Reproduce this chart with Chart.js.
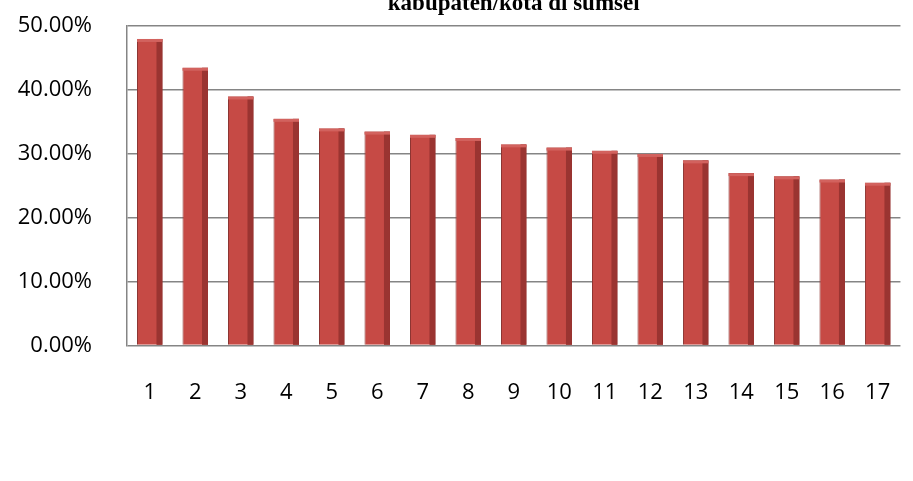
<!DOCTYPE html>
<html>
<head>
<meta charset="utf-8">
<script src="https://cdn.jsdelivr.net/npm/chart.js@4"></script>
<style>
  html, body { margin:0; padding:0; background:#fff; }
  #wrap { width:913px; height:481px; position:relative; overflow:hidden; }
  #chart { position:absolute; left:0; top:-22px; }
</style>
</head>
<body>
<div id="wrap"><canvas id="chart" width="925" height="503"></canvas></div>
<script>
// ================= DATA =================
const categories = ["1","2","3","4","5","6","7","8","9","10","11","12","13","14","15","16","17"];
const values = [48, 43.5, 39, 35.5, 34, 33.5, 33, 32.5, 31.5, 31, 30.5, 30, 29, 27, 26.5, 26, 25.5];
const yTicks = [0, 10, 20, 30, 40, 50];
const titleText = "kabupaten/kota di sumsel";

// ================= 3D SIDE SHADE =================
const barShade = {
    id: 'barShade',
    afterDatasetsDraw(chart){
        const ctx = chart.ctx;
        chart.getDatasetMeta(0).data.forEach(bar => {
            const right = bar.x + bar.width/2;
            ctx.save();
            ctx.fillStyle = '#9a3431';
            ctx.fillRect(right - 6, bar.y, 6, bar.base - bar.y);
            ctx.fillStyle = '#d2625e';
            ctx.fillRect(bar.x - bar.width/2, bar.y, bar.width, 3);
            ctx.restore();
        });
    }
};

// ================= CHART =================
const ctx = document.getElementById("chart").getContext("2d");
new Chart(ctx, {
    type: 'bar',
    data: {
        labels: categories,
        datasets: [{
            data: values,
            backgroundColor: '#c64a45',
            borderColor: '#8c3532',
            borderWidth: 1,
            barPercentage: 0.56,
            categoryPercentage: 1
        }]
    },
    options: {
        responsive: false,
        animation: false,
        layout: { padding: { left: 0, right: 0, top: 0, bottom: 41 } },
        plugins: {
            legend: { display: false },
            tooltip: { enabled: false },
            title: {
                display: true,
                fullSize: false,
                text: titleText,
                color: '#000',
                font: { family: '"Liberation Serif", "Times New Roman", serif', size: 23, weight: 'bold', lineHeight: 1.2 },
                padding: { top: 3, bottom: 8 }
            }
        },
        scales: {
            x: {
                grid: { display: false, drawTicks: false },
                border: { display: false },
                ticks: { color: '#000', padding: 34, font: { family: '"Open Sans", sans-serif', size: 22 }, maxRotation: 0 }
            },
            y: {
                min: 0,
                max: 50,
                afterBuildTicks: axis => { axis.ticks = yTicks.map(v => ({ value: v })); },
                afterFit: axis => { axis.width = 127; },
                grid: { color: '#858585', lineWidth: 1.5, drawTicks: false },
                border: { display: true, color: '#858585', width: 1.5 },
                ticks: {
                    color: '#000',
                    padding: 35,
                    font: { family: '"Open Sans", sans-serif', size: 22 },
                    callback: v => v.toFixed(2) + '%'
                }
            }
        }
    },
    plugins: [barShade]
});
</script>
</body>
</html>
